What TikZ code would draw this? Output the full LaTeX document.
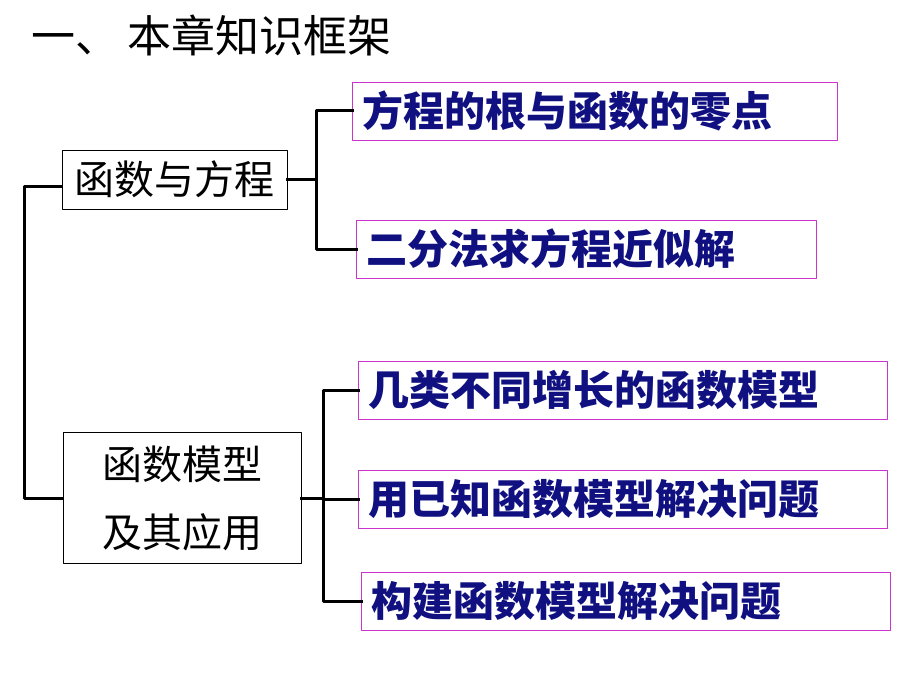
\documentclass[tikz,border=0pt]{standalone}
\usepackage{fontspec}
\usepackage{tikz}
\newfontfamily\cjk{Noto Sans CJK SC}
\definecolor{leafpink}{RGB}{204,51,204}
\definecolor{leafblue}{RGB}{16,16,128}
\tikzset{
  stem/.style={draw=black,line width=0.8pt,font=\cjk\fontsize{40}{68}\selectfont,align=center,inner sep=0pt},
  leaf/.style={draw=leafpink,line width=0.8pt,text=leafblue,font=\cjk\bfseries\fontsize{41}{46}\selectfont,
    anchor=west,align=left,inner xsep=10pt,inner ysep=0pt,minimum height=58pt},
  link/.style={line width=3pt,line cap=rect}
}
\begin{document}
\begin{tikzpicture}[x=1pt,y=-1pt,line join=round]
        \useasboundingbox (0,0) rectangle (920,690);
        \node[anchor=west,inner sep=0pt,font=\cjk\fontsize{44}{50}\selectfont] (title) at (31,35) {一、\hspace{8pt}本章知识框架};
        % left column
        \node[stem,minimum width=225pt,minimum height=59pt] (eq) at (174.5,179.5) {函数与方程};
        \node[stem,minimum width=238pt,minimum height=131pt] (model) at (182,498) {函数模型\\及其应用};
        % right column
        \node[leaf,text width=465pt] (root) at (352,111) {方程的根与函数的零点};
        \node[leaf,text width=440pt] (bisect) at (356,249) {二分法求方程近似解};
        \node[leaf,text width=509pt] (growth) at (358,390) {几类不同增长的函数模型};
        \node[leaf,text width=509pt] (known) at (358,499) {用已知函数模型解决问题};
        \node[leaf,text width=509pt] (build) at (361,601) {构建函数模型解决问题};
        % connectors
        \draw[link] ([yshift=-7pt]eq.west) -- ++(-37,0) coordinate (spine) |- (model.west);
        \draw[link] (eq.east) -- ++(29,0) coordinate (jeq);
        \foreach \n in {root,bisect}
        \draw[link] (jeq) |- (\n.west);
        \draw[link] (model.east) -- ++(22,0) coordinate (jmodel);
        \foreach \n in {growth,known,build}
        \draw[link] (jmodel) |- (\n.west);
      \end{tikzpicture}
\end{document}
